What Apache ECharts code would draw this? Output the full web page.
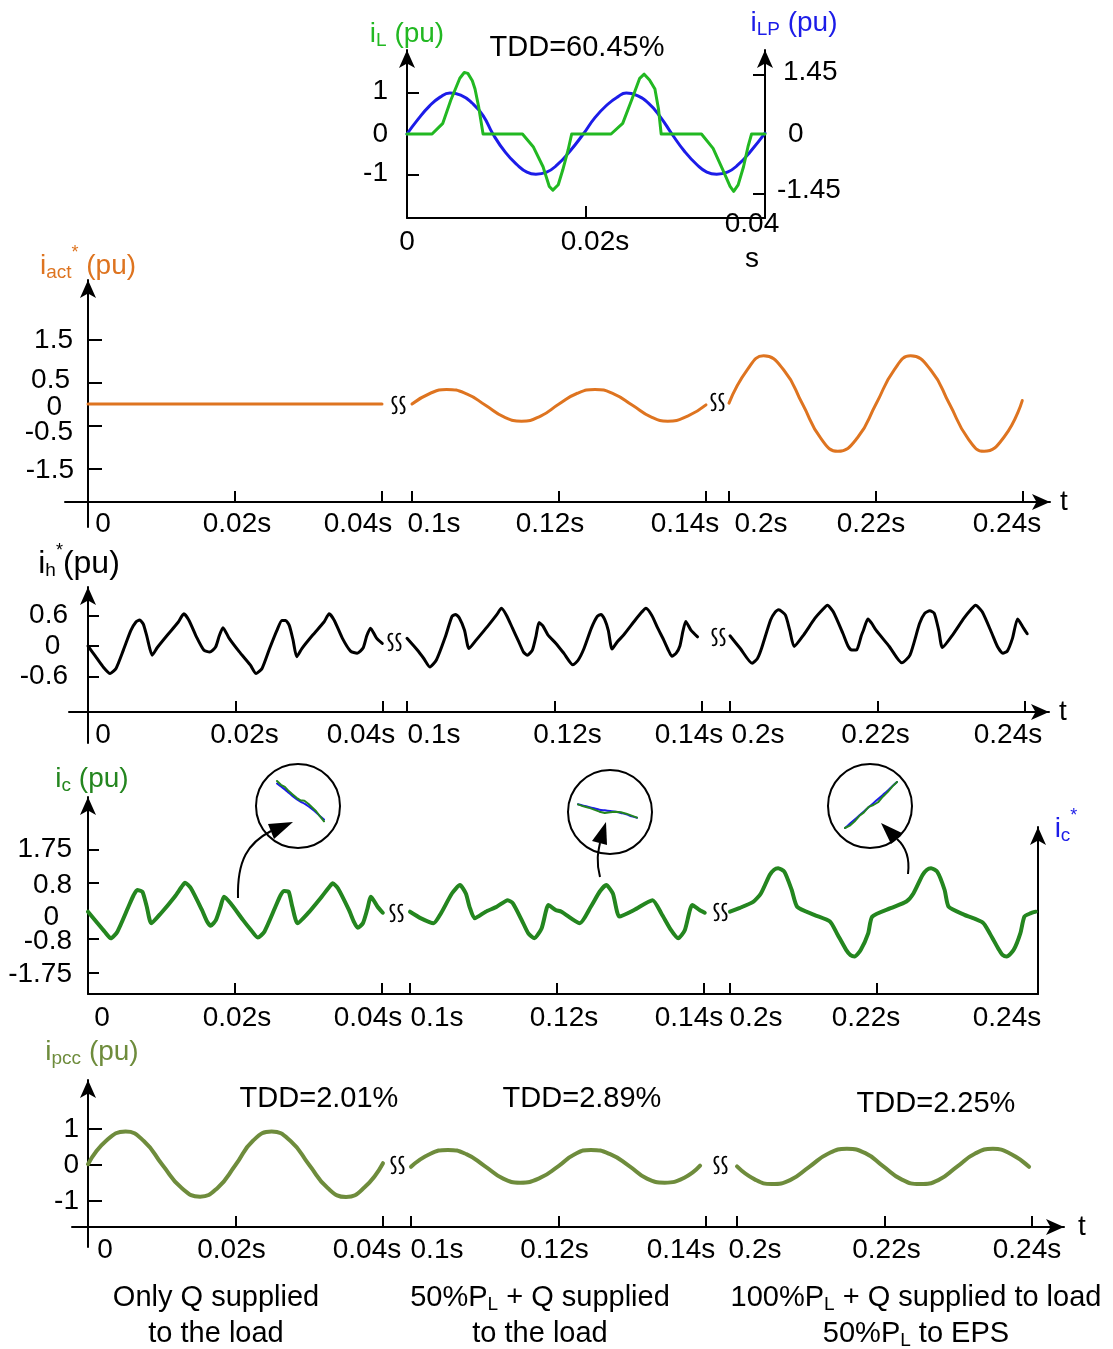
<!DOCTYPE html>
<html>
<head>
<meta charset="utf-8">
<title>Compensation currents</title>
<script src="https://cdn.jsdelivr.net/npm/echarts@6.0.0/dist/echarts.min.js"></script>
<style>
  html, body { margin: 0; padding: 0; background: #ffffff; }
  #chart { width: 1113px; height: 1349px; }
  #err { position: absolute; left: 10px; top: 10px; font: 14px monospace; color: red; white-space: pre-wrap; width: 1000px; }
</style>
</head>
<body>
<div id="chart"></div>
<div id="err"></div>
<script>
// every series: [time inside its window in ms, value in pu]

// top inset, 0 .. 0.04 s
const iLData = [[0,0],[2.8,0],[4.0,0.26],[4.9,0.83],[5.9,1.36],[6.4,1.5],[6.8,1.48],[7.3,1.3],[7.6,1.1],[8.0,0.67],[8.5,0],
  [12.9,0],[14.1,-0.31],[15.2,-0.8],[15.9,-1.28],[16.3,-1.37],[16.9,-1.24],[17.4,-0.88],[18.0,-0.39],[18.4,0],
  [22.8,0],[24.1,0.26],[25.1,0.83],[26.0,1.36],[26.5,1.46],[27.1,1.32],[27.7,1.1],[28.1,0.61],[28.4,0],
  [32.9,0],[34.2,-0.35],[35.3,-0.88],[36.1,-1.28],[36.5,-1.4],[37.0,-1.24],[37.6,-0.8],[38.1,-0.31],[38.5,0],[40,0]];
const iLPData = [[0,0],[1.2,0.35],[2.5,0.68],[3.7,0.9],[4.8,1.0],[6,0.95],[7.3,0.75],[8.5,0.45],[9.6,0],[11,-0.45],
  [12.3,-0.75],[13.4,-0.93],[14.4,-0.98],[15.6,-0.93],[16.8,-0.75],[18.2,-0.42],[19.7,0],[21,0.4],[22.4,0.72],
  [23.5,0.9],[24.5,1.0],[25.6,0.95],[27,0.75],[28.3,0.42],[29.6,0],[31,-0.42],[32.4,-0.75],[33.5,-0.93],
  [34.6,-0.98],[35.8,-0.93],[37,-0.75],[38.4,-0.42],[40,0.02]];

// i_act*
const iactSeg1 = [[0,0],[40,0]];
const iactSeg2 = [[0,0],[2.5,0.25],[4.7,0.34],[7.5,0.23],[10,-0.03],[12.5,-0.3],[14.9,-0.4],[17.5,-0.28],[20,0],
  [22.5,0.25],[24.9,0.34],[27.5,0.23],[30,-0.03],[32.5,-0.3],[34.8,-0.4],[37.5,-0.28],[40,-0.02]];
const iactSeg3 = [[0,0.02],[2.5,0.8],[4.7,1.12],[7.5,0.78],[10,0],[12.5,-0.8],[14.8,-1.1],[17.5,-0.78],[20,0],
  [22.5,0.8],[24.7,1.12],[27.5,0.78],[30,0],[32.5,-0.8],[34.7,-1.1],[37.5,-0.75],[39.9,0.08]];

// i_h*
const ihSeg1 = [[0,0],[1,-0.2],[2,-0.4],[3,-0.54],[3.8,-0.44],[4.8,-0.08],[5.8,0.3],[6.5,0.47],[7,0.51],[7.5,0.43],
  [8,0.18],[8.7,-0.18],[9.4,-0.03],[10.8,0.22],[12.2,0.46],[13,0.63],[13.7,0.5],[14.7,0.18],[15.7,-0.08],[16.5,-0.12],
  [17.3,-0.02],[17.8,0.2],[18.3,0.36],[19.1,0.16],[20.5,-0.11],[22,-0.37],[22.8,-0.54],[23.6,-0.44],[24.6,-0.06],
  [25.6,0.3],[26.3,0.5],[26.8,0.5],[27.3,0.4],[27.8,0.12],[28.3,-0.21],[29,-0.05],[30.5,0.22],[32,0.47],[32.7,0.63],
  [33.4,0.5],[34.5,0.15],[35.6,-0.1],[36.5,-0.14],[37.3,-0.04],[37.8,0.2],[38.3,0.35],[39.1,0.16],[39.9,0.05]];
const ihSeg2 = [[0,0.15],[1.4,-0.08],[2.3,-0.25],[3.1,-0.41],[4.0,-0.27],[5.2,0.18],[6.1,0.58],[6.6,0.62],[7.1,0.55],
  [7.8,0.31],[8.4,-0.05],[9.4,0.12],[10.9,0.38],[12.2,0.62],[12.8,0.74],[13.5,0.6],[14.3,0.35],[15.1,0.1],[15.8,-0.12],
  [16.3,-0.18],[17.0,-0.08],[17.5,0.2],[17.9,0.46],[18.4,0.4],[19.1,0.22],[20.2,0.05],[21.3,-0.15],[22.5,-0.37],
  [23.2,-0.28],[24.0,-0.05],[25.0,0.35],[25.8,0.58],[26.3,0.62],[26.8,0.52],[27.3,0.3],[27.8,-0.06],[28.5,0.08],
  [29.4,0.22],[30.9,0.5],[31.8,0.66],[32.4,0.74],[33.2,0.6],[34.0,0.35],[34.8,0.12],[35.5,-0.1],[35.9,-0.2],
  [36.5,-0.14],[37.0,0],[37.4,0.28],[37.8,0.48],[38.5,0.31],[39.4,0.18]];
const ihSeg3 = [[0,0.2],[1.4,-0.05],[3.0,-0.34],[3.7,-0.25],[4.2,-0.08],[5.5,0.51],[6.1,0.66],[6.6,0.71],[7.5,0.61],
  [8.1,0.31],[8.7,-0.01],[10,0.22],[11.5,0.54],[12.6,0.72],[13.2,0.8],[14.0,0.67],[15.3,0.25],[16.0,0],[16.5,-0.08],
  [17.2,-0.07],[17.8,0.2],[18.1,0.31],[18.7,0.53],[19.2,0.45],[19.8,0.31],[21.6,-0.01],[23.3,-0.33],[24.4,-0.18],
  [25.7,0.44],[26.4,0.64],[27.1,0.69],[27.7,0.64],[28.3,0.31],[28.8,-0.03],[30.2,0.22],[31.7,0.54],[32.7,0.72],
  [33.3,0.8],[34.2,0.67],[35.5,0.25],[36.3,-0.02],[37.0,-0.14],[37.6,-0.1],[38.3,0.15],[39.0,0.53],[39.8,0.35],[40.3,0.24]];

// i_c (the reference i_c* lies under it)
const icSeg1 = [[0,-0.02],[1.3,-0.35],[2.3,-0.6],[3.1,-0.78],[4.0,-0.59],[5.5,0.12],[6.2,0.45],[6.7,0.6],[7.4,0.55],
  [8.0,0.12],[8.6,-0.35],[9.9,-0.07],[11.8,0.41],[12.7,0.68],[13.2,0.81],[14.0,0.65],[15.5,0.03],[16.2,-0.3],
  [16.7,-0.42],[17.4,-0.26],[18.0,0.1],[18.5,0.41],[19.4,0.22],[21.1,-0.26],[22.2,-0.55],[23.1,-0.76],[24.0,-0.59],
  [25.5,0.12],[26.2,0.45],[26.7,0.57],[27.3,0.55],[27.8,0.12],[28.5,-0.35],[29.9,-0.07],[31.8,0.41],[32.8,0.68],
  [33.3,0.79],[34.0,0.65],[35.5,0.03],[36.2,-0.32],[36.7,-0.48],[37.4,-0.35],[38.0,0.05],[38.5,0.41],[39.4,0.12],[40.1,-0.05]];
const icSeg2 = [[0,-0.02],[1.5,-0.21],[3.2,-0.35],[4.2,-0.07],[5.7,0.5],[6.8,0.74],[7.6,0.5],[8.1,0.12],[8.8,-0.21],
  [10.3,-0.02],[11.8,0.12],[13.3,0.31],[14.0,0.22],[15.2,-0.26],[16.1,-0.64],[16.9,-0.78],[17.9,-0.5],[18.5,0],
  [18.8,0.17],[19.8,0.03],[20.6,-0.02],[23.1,-0.35],[24.6,0.12],[25.8,0.55],[26.7,0.74],[27.6,0.5],[28.5,-0.16],
  [30.5,0.03],[33.0,0.31],[34.2,-0.07],[35.5,-0.54],[36.5,-0.78],[37.4,-0.54],[38.4,0.17],[39.4,0.03],[40.1,-0.05]];
const icSeg3 = [[0,-0.02],[1.25,0.08],[3.2,0.27],[4.2,0.5],[5.4,1.03],[6.0,1.18],[6.55,1.22],[7.4,1.12],[8.4,0.6],
  [9.15,0.12],[11.45,-0.11],[13.6,-0.3],[14.55,-0.64],[15.8,-1.11],[16.4,-1.26],[16.95,-1.3],[17.8,-1.11],[18.8,-0.64],
  [19.35,-0.16],[21.85,0.08],[24.0,0.27],[24.95,0.5],[26.2,1.03],[26.8,1.18],[27.35,1.22],[28.2,1.12],[29.2,0.6],
  [29.75,0.12],[31.9,-0.11],[34.4,-0.33],[35.35,-0.64],[36.6,-1.11],[37.1,-1.26],[37.65,-1.3],[38.6,-1.11],
  [39.5,-0.64],[40.05,-0.16],[40.85,-0.07],[41.6,-0.02]];
const icRefSeg1 = icSeg1, icRefSeg2 = icSeg2, icRefSeg3 = icSeg3;

// i_pcc
const ipccSeg1 = [[0,0.02],[2.5,0.68],[5.1,0.93],[7.6,0.66],[10.1,0],[12.7,-0.64],[15.2,-0.88],[17.6,-0.63],[20,0],
  [22.4,0.68],[24.9,0.93],[27.5,0.66],[30,0],[32.5,-0.64],[35,-0.89],[37.5,-0.62],[40,0.05]];
const ipccSeg2 = [[0,-0.05],[2.5,0.3],[5,0.42],[7.5,0.3],[10,-0.03],[12.5,-0.38],[14.8,-0.49],[17.5,-0.36],[20,-0.03],
  [22.2,0.3],[24.4,0.42],[27,0.3],[29.6,-0.03],[32,-0.38],[34.4,-0.49],[37,-0.36],[39.2,-0.02]];
const ipccSeg3 = [[0,-0.04],[2.4,-0.4],[4.7,-0.53],[7.2,-0.42],[9.8,-0.05],[12.4,0.32],[14.9,0.45],[17.4,0.33],
  [19.8,-0.03],[22.3,-0.4],[24.8,-0.53],[27.3,-0.42],[29.8,-0.05],[32.3,0.32],[34.7,0.45],[37.2,0.3],[39.6,-0.05]];

// magnified details (arbitrary units)
const mag1Green = [10, 9.1, 8.6, 7.6, 6.8, 6.0, 5.4, 5.3, 4.6, 3.7, 2.8, 1.6, 0.4];
const mag1Blue = [9.4, 8.7, 8.0, 7.2, 6.4, 5.7, 5.1, 4.6, 4.0, 3.3, 2.5, 1.6, 0.8];
const mag2Green = [0, -0.3, -0.5, -0.8, -1.1, -1.3, -1.2, -1.1, -1.2, -1.4, -1.7, -2.0];
const mag2Blue = [0, -0.2, -0.4, -0.6, -0.8, -0.9, -1.0, -1.1, -1.3, -1.5, -1.8, -2.0];
const mag3Green = [0, 0.5, 1.4, 2.6, 3.4, 4.6, 5.0, 5.6, 6.8, 7.8, 9.0, 10];
const mag3Blue = [0, 0.9, 1.8, 2.7, 3.6, 4.5, 5.4, 6.3, 7.2, 8.1, 9.1, 10];

// ticks
const segStarts = [0, 0.1, 0.2];
const xTickVals = [0, 0.02, 0.04, 0.1, 0.12, 0.14, 0.2, 0.22, 0.24];
const xTickSeg = [0, 0, 0, 1, 1, 1, 2, 2, 2];
const xTickText = ['0', '0.02s', '0.04s', '0.1s', '0.12s', '0.14s', '0.2s', '0.22s', '0.24s'];
const insetTickVals = [0, 0.02, 0.04];
const insetTickText = ['0', '0.02s', '0.04\ns'];
const iLTicks = [-1, 0, 1];
const iLPTicks = [-1.45, 0, 1.45];
const iactTicks = [-1.5, -0.5, 0, 0.5, 1.5];
const ihTicks = [-0.6, 0, 0.6];
const icTicks = [-1.75, -0.8, 0, 0.8, 1.75];
const ipccTicks = [-1, 0, 1];

const FONT = '"Liberation Sans", Arial, sans-serif';
const BLACK = '#000000', ORANGE = '#de7420', GREEN = '#24861f', OLIVE = '#6e8c3c', LGREEN = '#22b822', BLUE = '#1c1ce8';

// broken time axis: each 40 ms window is slid left so the windows sit side by side with a small gap
function toData(arr, start, shift) {
  return arr.map(p => [start + p[0] / 1000 - shift, p[1]]);
}

function nameRich(color, size) {
  const f = size || 28;
  return {
    m: { fontSize: f, fontFamily: FONT, color: color, lineHeight: f + 3 },
    s: { fontSize: 19, fontFamily: FONT, color: color, lineHeight: 19, padding: [12, 0, 0, 0] },
    a: { fontSize: 18, fontFamily: FONT, color: color, lineHeight: 18, padding: [0, 0, 26, 0] }
  };
}

function shiftRich(shifts, lineHeight) {
  const rich = {};
  shifts.forEach((d, i) => {
    rich['k' + i] = {
      fontSize: 28, fontFamily: FONT, color: BLACK, lineHeight: lineHeight,
      padding: d >= 0 ? [0, 0, 0, 2 * d] : [0, -2 * d, 0, 0]
    };
  });
  return rich;
}

// y labels: vertical nudge (v) and extra side padding (h) per label
function yRich(v, h, side) {
  const rich = {};
  v.forEach((d, i) => {
    const pad = [d > 0 ? 2 * d : 0, 0, d < 0 ? -2 * d : 0, 0];
    if (side === 'left') pad[1] = h[i]; else pad[3] = h[i];
    rich['y' + i] = { fontSize: 28, fontFamily: FONT, color: BLACK, lineHeight: 18, padding: pad };
  });
  return rich;
}

function labelFormatter(vals, texts) {
  return function (v) {
    let i = 0;
    vals.forEach((u, j) => { if (Math.abs(u - v) < Math.abs(vals[i] - v)) i = j; });
    return texts[i].split('\n').map(t => '{k' + i + '|' + t + '}').join('\n');
  };
}

function yFormatter(vals) {
  return function (v) {
    let i = 0;
    vals.forEach((u, j) => { if (Math.abs(u - v) < Math.abs(vals[i] - v)) i = j; });
    return '{y' + i + '|' + String(vals[i]) + '}';
  };
}

function lineSeries(xi, yi, data, color, width, smooth, z) {
  return {
    type: 'line', xAxisIndex: xi, yAxisIndex: yi, data: data, symbol: 'none', showSymbol: false,
    smooth: smooth, silent: true, z: z || 2,
    lineStyle: { color: color, width: width, cap: 'round', join: 'round' }
  };
}

const axisLineStyle = { color: BLACK, width: 2 };
const keepLabels = { hideOverlap: false, showMinLabel: true, showMaxLabel: true };

const panels = [
  { segs: [iactSeg1, iactSeg2, iactSeg3], color: ORANGE, width: 3, smooth: 0.5,
    left: 65, right: 1050, top: 280, bottom: 527, axisY: 502, x0: 88, pps: 7350, gaps: [30, 23],
    zeroY: 404, ppu: 43, yLabels: iactTicks, yTicks: [-1.5, -0.5, 0.5, 1.5], tickLen: 14,
    yMargin: -9, yV: [1.5, 6.5, 3, -2.5, 0.5], yH: [0, 1, 12, 4, 1],
    xTicks: [0.02, 0.04, 0.1, 0.12, 0.14, 0.2, 0.22, 0.24], xShift: [15, 2, -24, 22, -9, -21, 32, -5, -16],
    xMargin: 7, arrow: true, tGap: 10,
    name: '{m|i}{s|act}{a|*}{m| (pu)}', nameColor: ORANGE, nameGap: -2, nameSize: 28, namePad: [0, 0, 0, 0] },
  { segs: [ihSeg1, ihSeg2, ihSeg3], color: BLACK, width: 3, smooth: 0.2, plainY: true,
    left: 69, right: 1049, top: 587, bottom: 743, axisY: 712, x0: 88, pps: 7375, gaps: [24, 28],
    zeroY: 646, ppu: 51, yLabels: ihTicks, yTicks: ihTicks, tickLen: 11,
    yMargin: 1, yV: [0, 0, 0], yH: [0, 0, 0],
    xTicks: [0.02, 0.04, 0.1, 0.12, 0.14, 0.2, 0.22, 0.24], xShift: [15, 9, -22, 27, 13, -13, 28, -2, -17],
    xMargin: 8, arrow: true, tGap: 10,
    name: '{m|i}{s|h}{a|*}{m|(pu)}', nameColor: BLACK, nameGap: 5, nameSize: 32, namePad: [0, 18, 0, 0] },
  { segs: [icSeg1, icSeg2, icSeg3], refSegs: [icRefSeg1, icRefSeg2, icRefSeg3], color: GREEN, width: 4, smooth: 0.2,
    left: 88, right: 1038, top: 797, bottom: 994, axisY: 994, x0: 88, pps: 7350, gaps: [28, 26],
    zeroY: 911, ppu: 35, yLabels: icTicks, yTicks: [-1.75, -0.8, 0.8, 1.75], tickLen: 11,
    yMargin: 16, yV: [2.5, 2, 6, 2, -0.5], yH: [0, 0, 13, 0, 0],
    xTicks: [0.02, 0.04, 0.1, 0.12, 0.14, 0.2, 0.22], xShift: [14, 2, -14, 27, 7, -15, 26, -11, -17],
    xMargin: 9, arrow: false, tGap: 10,
    name: '{m|i}{s|c}{m| (pu)}', nameColor: GREEN, nameGap: 2, nameSize: 28, namePad: [0, 0, 0, 8] },
  { segs: [ipccSeg1, ipccSeg2, ipccSeg3], color: OLIVE, width: 4, smooth: 0.5,
    left: 72, right: 1064, top: 1080, bottom: 1247, axisY: 1227, x0: 88, pps: 7375, gaps: [28, 31],
    zeroY: 1165, ppu: 36, yLabels: ipccTicks, yTicks: ipccTicks, tickLen: 14,
    yMargin: -7, yV: [0, 0, 0], yH: [0, 0, 0],
    xTicks: [0.02, 0.04, 0.1, 0.12, 0.14, 0.2, 0.22, 0.24], xShift: [17, -4, -16, 26, -4, -25, 18, 2, -5],
    xMargin: 8, arrow: true, tGap: 14,
    name: '{m|i}{s|pcc}{m| (pu)}', nameColor: OLIVE, nameGap: 12, nameSize: 28, namePad: [0, 0, 0, 8] }
];

const grid = [], xAxis = [], yAxis = [], series = [];

panels.forEach(p => {
  const gi = grid.length, xi = xAxis.length, yi = yAxis.length;
  grid.push({ left: p.left, top: p.top, width: p.right - p.left, height: p.bottom - p.top });
  const g1 = p.gaps[0] / p.pps, g2 = p.gaps[1] / p.pps;
  const shifts = [0, 0.1 - 0.04 - g1, 0.2 - 0.08 - g1 - g2];
  const tickPos = v => { const k = xTickVals.findIndex(u => Math.abs(u - v) < 1e-9); return v - shifts[xTickSeg[k]]; };
  const labelPos = xTickVals.map(tickPos);
  const x24 = p.x0 + 0.12 * p.pps + p.gaps[0] + p.gaps[1];
  xAxis.push({
    gridIndex: gi, type: 'value',
    min: -(p.x0 - p.left) / p.pps, max: 0.12 + g1 + g2 + (p.right - x24) / p.pps,
    offset: p.axisY - p.bottom,
    axisLine: { onZero: false, lineStyle: axisLineStyle, symbol: p.arrow ? ['none', 'arrow'] : 'none', symbolSize: [12, 18] },
    axisTick: { customValues: p.xTicks.map(tickPos), inside: true, length: 11, lineStyle: axisLineStyle },
    axisLabel: Object.assign({ customValues: labelPos, formatter: labelFormatter(labelPos, xTickText),
      rich: shiftRich(p.xShift, 31), margin: p.xMargin }, keepLabels),
    splitLine: { show: false },
    name: p.arrow ? 't' : '', nameLocation: 'end', nameGap: p.tGap, nameMoveOverlap: false,
    nameTextStyle: { fontSize: 28, fontFamily: FONT, color: BLACK }
  });
  const yLabel = p.plainY
    ? { customValues: p.yLabels, formatter: v => (Math.abs(v) < 1e-9 ? '0 ' : String(Math.round(v * 100) / 100)),
        fontSize: 28, fontFamily: FONT, color: BLACK, margin: p.yMargin }
    : Object.assign({ customValues: p.yLabels, formatter: yFormatter(p.yLabels),
        rich: yRich(p.yV, p.yH, 'left'), margin: p.yMargin }, keepLabels);
  yAxis.push({
    gridIndex: gi, type: 'value',
    min: (p.zeroY - p.bottom) / p.ppu, max: (p.zeroY - p.top) / p.ppu,
    axisLine: { onZero: true, lineStyle: axisLineStyle, symbol: ['none', 'arrow'], symbolSize: [12, 18] },
    axisTick: { customValues: p.yTicks, inside: true, length: p.tickLen, lineStyle: axisLineStyle },
    axisLabel: yLabel,
    splitLine: { show: false },
    name: p.name, nameLocation: 'end', nameGap: p.nameGap, nameMoveOverlap: false,
    nameTextStyle: { rich: nameRich(p.nameColor, p.nameSize), fontSize: p.nameSize, color: p.nameColor, padding: p.namePad }
  });
  p.segs.forEach((seg, k) => {
    if (p.refSegs) series.push(lineSeries(xi, yi, toData(p.refSegs[k], segStarts[k], shifts[k]), BLUE, 2.5, p.smooth, 2));
    series.push(lineSeries(xi, yi, toData(seg, segStarts[k], shifts[k]), p.color, p.width, p.smooth, 3));
  });
});

// top inset
const insetGrid = grid.length, insetX = xAxis.length, insetYL = yAxis.length, insetYR = yAxis.length + 1;
grid.push({ left: 407, top: 50, width: 358, height: 168 });
xAxis.push({
  gridIndex: insetGrid, type: 'value', min: 0, max: 0.04,
  axisLine: { onZero: false, lineStyle: axisLineStyle },
  axisTick: { customValues: [0.02], inside: true, length: 12, lineStyle: axisLineStyle },
  axisLabel: Object.assign({ customValues: insetTickVals, formatter: labelFormatter(insetTickVals, insetTickText),
    rich: shiftRich([0, 9, -13], 35), verticalAlign: 'middle', margin: 24 }, keepLabels),
  splitLine: { show: false }
});
yAxis.push({
  gridIndex: insetGrid, type: 'value', min: -2.05, max: 2.05, position: 'left',
  axisLine: { onZero: false, lineStyle: axisLineStyle, symbol: ['none', 'arrow'], symbolSize: [12, 18] },
  axisTick: { customValues: [-1, 1], inside: true, length: 12, lineStyle: axisLineStyle },
  axisLabel: Object.assign({ customValues: iLTicks, formatter: yFormatter(iLTicks),
    rich: yRich([-2, 0, -2], [0, 0, 0], 'left'), margin: 19 }, keepLabels),
  splitLine: { show: false },
  name: '{m|i}{s|L}{m| (pu)}', nameLocation: 'end', nameGap: 0, nameMoveOverlap: false,
  nameTextStyle: { rich: nameRich(LGREEN), fontSize: 28, color: LGREEN }
});
yAxis.push({
  gridIndex: insetGrid, type: 'value', min: -2.05, max: 2.05, position: 'right',
  axisLine: { onZero: false, lineStyle: axisLineStyle, symbol: ['none', 'arrow'], symbolSize: [12, 18] },
  axisTick: { customValues: [-1.45, 1.45], inside: true, length: 12, lineStyle: axisLineStyle },
  axisLabel: Object.assign({ customValues: iLPTicks, formatter: yFormatter(iLPTicks),
    rich: yRich([-3.5, 0, -2.5], [0, 11, 6], 'right'), margin: 12 }, keepLabels),
  splitLine: { show: false },
  name: '{m|i}{s|LP}{m| (pu)}', nameLocation: 'end', nameGap: 11, nameMoveOverlap: false,
  nameTextStyle: { rich: nameRich(BLUE), fontSize: 28, color: BLUE, padding: [0, 0, 0, 58] }
});
series.push(lineSeries(insetX, insetYR, toData(iLPData, 0, 0), BLUE, 3, 0.5, 3));
series.push(lineSeries(insetX, insetYL, toData(iLData, 0, 0), LGREEN, 3, false, 4));

// right-hand i_c* axis of the third panel
const rGrid = grid.length;
grid.push({ left: 1038, top: 827, width: 1, height: 167 });
xAxis.push({ gridIndex: rGrid, type: 'value', min: 0, max: 1, show: false });
yAxis.push({
  gridIndex: rGrid, type: 'value', min: 0, max: 1, position: 'left',
  axisLine: { onZero: false, lineStyle: axisLineStyle, symbol: ['none', 'arrow'], symbolSize: [12, 18] },
  axisTick: { show: false }, axisLabel: { show: false }, splitLine: { show: false },
  name: '{m|i}{s|c}{a|*}', nameLocation: 'end', nameGap: -18, nameMoveOverlap: false,
  nameTextStyle: { rich: nameRich(BLUE), fontSize: 28, color: BLUE, padding: [0, 0, 0, 56] }
});

// magnified details
const mags = [
  { box: [277, 781, 47, 42], green: mag1Green, blue: mag1Blue, min: 0, max: 10 },
  { box: [578, 803, 59, 16], green: mag2Green, blue: mag2Blue, min: -2.2, max: 0.2 },
  { box: [845, 782, 52, 46], green: mag3Green, blue: mag3Blue, min: 0, max: 10 }
];
mags.forEach(m => {
  const gi = grid.length, xi = xAxis.length, yi = yAxis.length;
  grid.push({ left: m.box[0], top: m.box[1], width: m.box[2], height: m.box[3] });
  xAxis.push({ gridIndex: gi, type: 'category', boundaryGap: false, data: m.green.map((v, j) => String(j)), show: false });
  yAxis.push({ gridIndex: gi, type: 'value', min: m.min, max: m.max, show: false });
  series.push(lineSeries(xi, yi, m.blue, BLUE, 2, 0.3, 5));
  series.push(lineSeries(xi, yi, m.green, GREEN, 2, false, 6));
});

// decorations
const graphic = [];
const breakMarks = [[399, 405], [718, 402], [395, 642], [719, 637], [397, 913], [721, 912], [398, 1165], [721, 1165]];
const markStyle = { stroke: BLACK, lineWidth: 1.8, fill: null };
breakMarks.forEach(([cx, cy]) => {
  [0, 8].forEach(dx => {
    const ox = cx - 8 + dx, oy = cy - 9;
    graphic.push({ type: 'bezierCurve', silent: true, style: markStyle,
      shape: { x1: ox + 6, y1: oy + 1, cpx1: ox + 1, cpy1: oy - 1, cpx2: ox, cpy2: oy + 6, x2: ox + 3.5, y2: oy + 9 } });
    graphic.push({ type: 'bezierCurve', silent: true, style: markStyle,
      shape: { x1: ox + 3.5, y1: oy + 9, cpx1: ox + 7, cpy1: oy + 12, cpx2: ox + 6, cpy2: oy + 19, x2: ox + 1, y2: oy + 17 } });
  });
});
[[298, 806], [610, 812], [870, 806]].forEach(([cx, cy]) => {
  graphic.push({ type: 'circle', silent: true, shape: { cx: cx, cy: cy, r: 42 }, style: { fill: null, stroke: BLACK, lineWidth: 2 } });
});
const arrows = [
  { c: [238, 898, 237, 860, 248, 843, 271, 831], head: [[293, 822], [268, 824], [274, 839]] },
  { c: [600, 877, 596, 862, 598, 852, 600, 843], head: [[606, 822], [592, 841], [607, 845]] },
  { c: [908, 874, 910, 858, 906, 847, 897, 839], head: [[881, 823], [902, 833], [891, 844]] }
];
arrows.forEach(a => {
  graphic.push({ type: 'bezierCurve', silent: true, style: { stroke: BLACK, lineWidth: 2, fill: null },
    shape: { x1: a.c[0], y1: a.c[1], cpx1: a.c[2], cpy1: a.c[3], cpx2: a.c[4], cpy2: a.c[5], x2: a.c[6], y2: a.c[7] } });
  graphic.push({ type: 'polygon', silent: true, shape: { points: a.head }, style: { fill: BLACK } });
});
const capRich = {
  m: { fontSize: 29, fontFamily: FONT, color: BLACK, lineHeight: 32 },
  s: { fontSize: 19, fontFamily: FONT, color: BLACK, lineHeight: 19, padding: [13, 0, 0, 0] }
};
const texts = [
  ['{m|TDD=60.45%}', 577, 48], ['{m|TDD=2.01%}', 319, 1099], ['{m|TDD=2.89%}', 582, 1099], ['{m|TDD=2.25%}', 936, 1104],
  ['{m|Only Q supplied}', 216, 1298], ['{m|to the load}', 216, 1334],
  ['{m|50%P}{s|L}{m| + Q supplied}', 540, 1298], ['{m|to the load}', 540, 1334],
  ['{m|100%P}{s|L}{m| + Q supplied to load}', 916, 1298], ['{m|50%P}{s|L}{m| to EPS}', 916, 1334]
];
texts.forEach(([t, x, y]) => {
  graphic.push({ type: 'text', silent: true, x: x, y: y,
    style: { text: t, rich: capRich, align: 'center', verticalAlign: 'middle', fill: BLACK } });
});

const chart = echarts.init(document.getElementById('chart'));
try {
  chart.setOption({
    animation: false,
    backgroundColor: '#ffffff',
    textStyle: { fontFamily: FONT },
    grid: grid,
    xAxis: xAxis,
    yAxis: yAxis,
    series: series,
    graphic: graphic
  });
} catch (e) {
  document.getElementById('err').textContent = String(e && e.stack ? e.stack : e);
}
</script>
</body>
</html>
